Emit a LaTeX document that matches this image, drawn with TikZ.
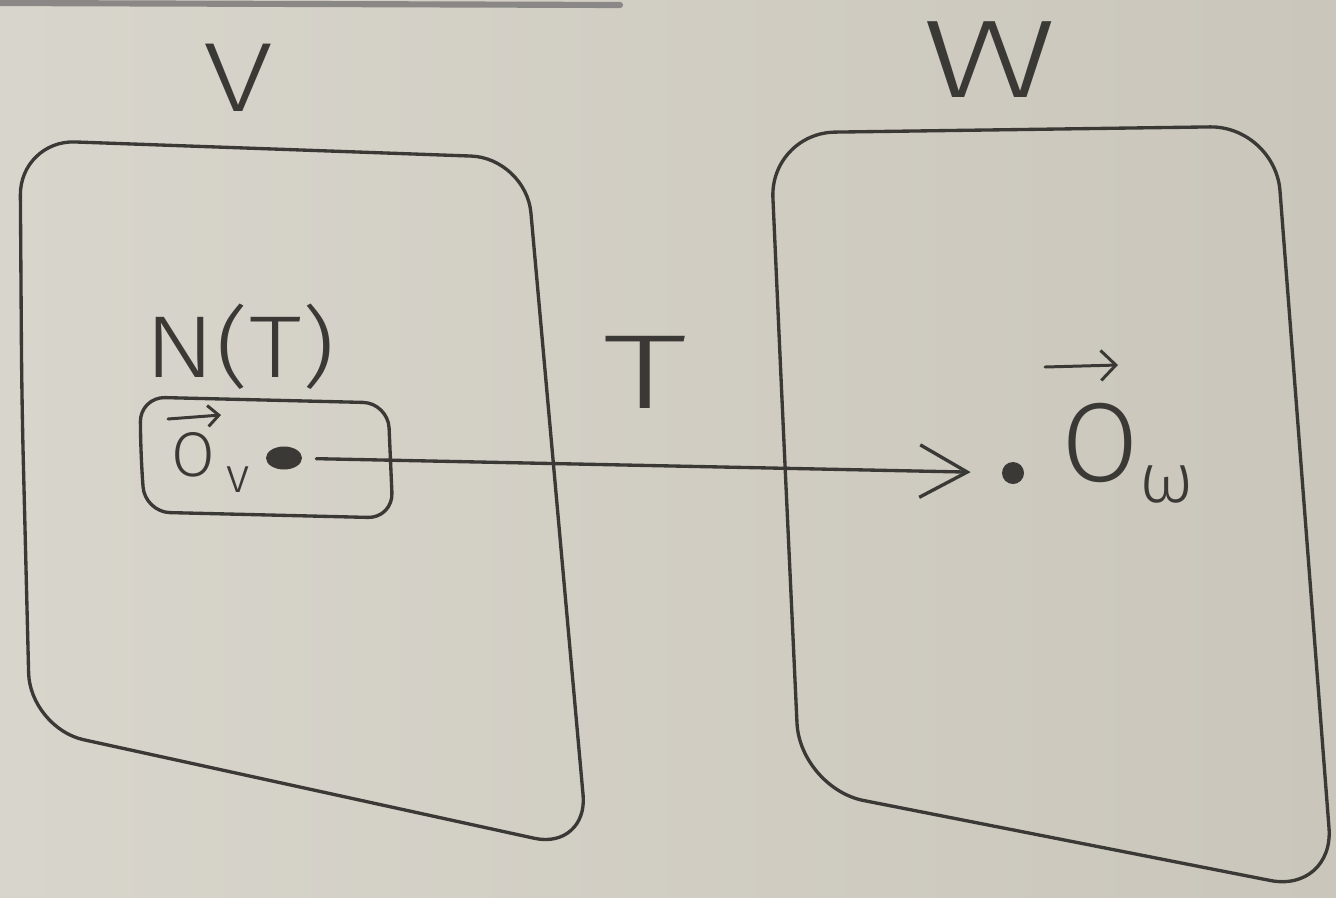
\documentclass[tikz,border=0pt]{standalone}
\usepackage{fontspec}
\setmainfont{Fira Sans}[UprightFont=* Light]
\usetikzlibrary{arrows.meta,shapes.geometric}
\definecolor{paper}{HTML}{D8D5CC}
\definecolor{paperR}{HTML}{CAC6BB}
\definecolor{ink}{HTML}{3A3936}
\begin{document}
\begin{tikzpicture}[x=0.02cm,y=-0.02cm,
  pen/.style={draw=ink,line width=1.9pt,line cap=round,line join=round},
  lbl/.style={text=ink,inner sep=0pt},
  inkdot/.style={fill=ink,draw=none,inner sep=0pt}]
\shade[left color=paper,right color=paperR] (0,0) rectangle (1336,897);
\useasboundingbox (0,0) rectangle (1336,897);
% board edge
\draw[line width=3.5pt,color=ink!60,line cap=round] (0,3) -- (620,5);
% space V
\draw[pen,rounded corners=1.1cm] (21.8,400) -- (20,140) -- (526,158) -- (588,850) -- (30,728) -- cycle;
% space W
\draw[pen,rounded corners=1.3cm] (782,400) -- (770,133) -- (1275,126) -- (1334,893) -- (800,788) -- cycle;
% kernel N(T)
\draw[pen,rounded corners=0.5cm] (141,460) -- (140,397) -- (388,403) -- (393,518) -- (145,512) -- cycle;
% labels
\node[lbl,xscale=1.3,font=\fontsize{56}{56}\selectfont] (V) at (238,78) {V};
\node[lbl,xscale=1.5,font=\fontsize{63}{63}\selectfont] (W) at (990,60) {W};
\node[lbl,xscale=1.2,font=\fontsize{50}{50}\selectfont] (NT) at (240,347) {N(T)};
\node[lbl,xscale=1.6,font=\fontsize{60}{60}\selectfont] (T) at (645,372) {T};
\node[lbl,font=\fontsize{36}{36}\selectfont] (Ov) at (193,455) {O};
\node[lbl,font=\fontsize{28}{28}\selectfont] (v) at (238,480) {v};
\node[lbl,font=\fontsize{64}{64}\selectfont] (Ow) at (1100,443) {O};
\node[lbl,font=\fontsize{40}{40}\selectfont] (w) at (1167,484) {ω};
% vector arrows over O
\draw[pen,line width=1.7pt,-{Straight Barb[length=0.22cm,width=0.42cm]}] (168,419) -- (221,415);
\draw[pen,line width=1.7pt,-{Straight Barb[length=0.3cm,width=0.6cm]}] (1045,367) -- (1118,365);
% zero vectors
\node[inkdot,ellipse,minimum width=0.72cm,minimum height=0.46cm] (dv) at (284,458) {};
\node[inkdot,circle,minimum size=0.44cm] (dw) at (1013,473) {};
% map T
\draw[pen,shorten <=0.28cm,shorten >=0.62cm,-{Straight Barb[length=0.95cm,width=1.05cm]}] (dv) -- (dw);
\end{tikzpicture}
\end{document}
